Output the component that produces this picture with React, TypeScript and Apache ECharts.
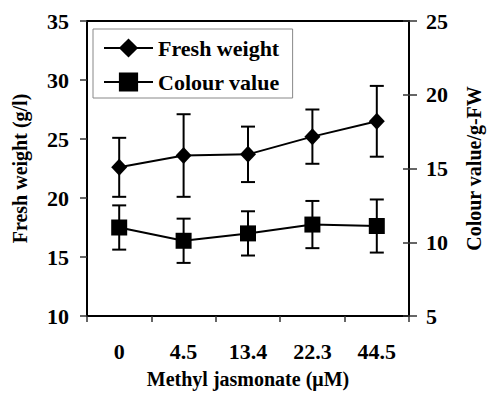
import React, { useEffect, useRef } from "react";
import * as echarts from "echarts";

const categories = ["0", "4.5", "13.4", "22.3", "44.5"];
const freshWeight = [22.6, 23.6, 23.7, 25.2, 26.5];
const freshWeightErr = [2.5, 3.5, 2.35, 2.3, 3.0];
const colourValue = [11.0, 10.1, 10.6, 11.2, 11.1];
const colourValueErr = [1.5, 1.5, 1.5, 1.6, 1.8];

const FONT = "'Liberation Serif', 'Times New Roman', serif";

function errorSeries(values: number[], errs: number[], yAxisIndex: number) {
  return {
    type: "custom",
    yAxisIndex,
    silent: true,
    z: 1,
    data: values.map((v, i) => [i, v - errs[i], v + errs[i]]),
    renderItem: (params: any, api: any) => {
      const x = api.value(0);
      const lo = api.coord([x, api.value(1)]);
      const hi = api.coord([x, api.value(2)]);
      const hw = 7;
      const style = { stroke: "#000", lineWidth: 2 };
      return {
        type: "group",
        children: [
          { type: "line", shape: { x1: lo[0], y1: lo[1], x2: hi[0], y2: hi[1] }, style },
          { type: "line", shape: { x1: lo[0] - hw, y1: lo[1], x2: lo[0] + hw, y2: lo[1] }, style },
          { type: "line", shape: { x1: hi[0] - hw, y1: hi[1], x2: hi[0] + hw, y2: hi[1] }, style },
        ],
      };
    },
  };
}

export default function App() {
  const ref = useRef<HTMLDivElement>(null);
  useEffect(() => {
    if (!ref.current) return;
    const chart = echarts.init(ref.current, undefined, { renderer: "svg" });
    const labelStyle = { color: "#000", fontFamily: FONT, fontWeight: "bold" as const, fontSize: 22 };
    const nameStyle = { color: "#000", fontFamily: FONT, fontWeight: "bold" as const, fontSize: 20 };
    chart.setOption({
      animation: false,
      backgroundColor: "#fff",
      grid: {
        left: 87,
        right: 75,
        top: 21,
        bottom: 73,
        show: true,
        borderColor: "#000",
        borderWidth: 2,
        backgroundColor: "transparent",
      },
      legend: {
        orient: "vertical",
        left: 93,
        top: 29,
        padding: [8, 13, 5, 10],
        itemGap: 12,
        itemWidth: 49,
        itemHeight: 24,
        borderColor: "#888",
        borderWidth: 1,
        backgroundColor: "#fff",
        textStyle: { color: "#000", fontFamily: FONT, fontWeight: "bold", fontSize: 22, lineHeight: 22 },
        data: ["Fresh weight", "Colour value"],
      },
      xAxis: {
        type: "category",
        data: categories,
        name: "Methyl jasmonate (\u03bcM)",
        nameLocation: "middle",
        nameGap: 53,
        nameTextStyle: nameStyle,
        axisLine: { lineStyle: { color: "#000", width: 2 } },
        axisTick: { show: true, length: 6, lineStyle: { color: "#333", width: 1.5 } },
        axisLabel: { ...labelStyle, margin: 24 },
        splitLine: { show: false },
      },
      yAxis: [
        {
          type: "value",
          min: 10,
          max: 35,
          interval: 5,
          position: "left",
          name: "Fresh weight (g/l)",
          nameLocation: "middle",
          nameGap: 57,
          nameTextStyle: nameStyle,
          axisLine: { show: true, lineStyle: { color: "#000", width: 2 } },
          axisTick: { show: true, length: 7, lineStyle: { color: "#333", width: 1.5 } },
          axisLabel: { ...labelStyle, margin: 18 },
          splitLine: { show: false },
        },
        {
          type: "value",
          min: 5,
          max: 25,
          interval: 5,
          position: "right",
          name: "Colour value/g-FW",
          nameLocation: "middle",
          nameGap: 55,
          nameRotate: 90,
          nameTextStyle: nameStyle,
          axisLine: { show: true, lineStyle: { color: "#000", width: 2 } },
          axisTick: { show: true, length: 8, lineStyle: { color: "#333", width: 1.5 } },
          axisLabel: { ...labelStyle, margin: 17 },
          splitLine: { show: false },
        },
        {
          type: "value",
          min: 5,
          max: 25,
          interval: 5,
          position: "right",
          axisLine: { show: false },
          axisTick: { show: true, inside: true, length: 6, lineStyle: { color: "#333", width: 1.5 } },
          axisLabel: { show: false },
          splitLine: { show: false },
        },
      ],
      series: [
        errorSeries(freshWeight, freshWeightErr, 0),
        errorSeries(colourValue, colourValueErr, 1),
        {
          name: "Fresh weight",
          type: "line",
          yAxisIndex: 0,
          data: freshWeight,
          symbol: "diamond",
          symbolSize: [16, 17],
          lineStyle: { color: "#000", width: 2 },
          itemStyle: { color: "#000" },
          z: 3,
        },
        {
          name: "Colour value",
          type: "line",
          yAxisIndex: 1,
          data: colourValue,
          symbol: "rect",
          symbolSize: 16,
          lineStyle: { color: "#000", width: 2 },
          itemStyle: { color: "#000" },
          z: 3,
        },
      ],
    });
    return () => chart.dispose();
  }, []);
  return (
    <div
      ref={ref}
      style={{ position: "fixed", left: 0, top: 0, width: 492, height: 394, background: "#fff" }}
    />
  );
}
